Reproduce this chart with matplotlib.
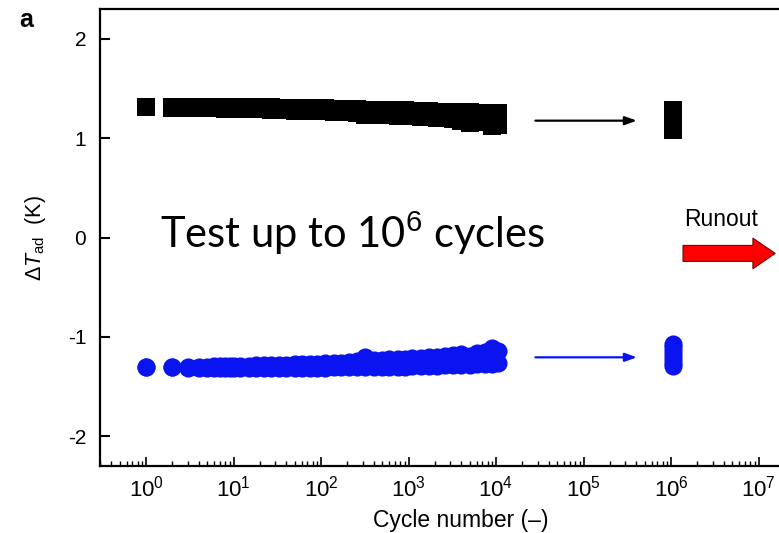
import numpy as np
from matplotlib import pyplot as plt

# cycle counts along the dense band (shared by both series)
band_cycles = [1, 2, 3, 4, 5, 6, 7, 8, 9, 10, 12, 15, 18, 22, 27, 33, 40, 50, 60, 75,
               90, 110, 140, 170, 210, 260, 320, 400, 500, 600, 750, 900, 1100, 1400,
               1700, 2100, 2600, 3200, 4000, 5000, 6000, 7500, 9000, 10500]

# heating (black squares): upper and lower edge of the band, K
heat_upper = [1.31, 1.31, 1.31, 1.31, 1.31, 1.31, 1.31, 1.31, 1.31, 1.31, 1.31, 1.31,
              1.31, 1.31, 1.31, 1.30, 1.30, 1.30, 1.30, 1.30, 1.30, 1.30, 1.29, 1.29,
              1.29, 1.29, 1.28, 1.28, 1.28, 1.28, 1.28, 1.28, 1.27, 1.27, 1.27, 1.26,
              1.26, 1.26, 1.26, 1.26, 1.25, 1.25, 1.25, 1.25]
heat_lower = [1.31, 1.30, 1.30, 1.30, 1.30, 1.30, 1.30, 1.29, 1.29, 1.29, 1.29, 1.29,
              1.29, 1.29, 1.28, 1.28, 1.28, 1.27, 1.27, 1.27, 1.27, 1.27, 1.26, 1.26,
              1.26, 1.25, 1.23, 1.24, 1.23, 1.23, 1.22, 1.22, 1.22, 1.21, 1.21, 1.20,
              1.20, 1.19, 1.17, 1.15, 1.16, 1.16, 1.12, 1.13]

# cooling (blue circles): upper and lower edge of the band, K
cool_upper = [-1.30, -1.30, -1.30, -1.30, -1.30, -1.29, -1.29, -1.29, -1.29, -1.29,
              -1.29, -1.29, -1.28, -1.28, -1.28, -1.28, -1.28, -1.27, -1.27, -1.27,
              -1.27, -1.26, -1.26, -1.26, -1.25, -1.24, -1.20, -1.23, -1.23, -1.22,
              -1.22, -1.22, -1.21, -1.21, -1.20, -1.20, -1.19, -1.18, -1.17, -1.19,
              -1.16, -1.15, -1.11, -1.14]
cool_lower = [-1.30, -1.30, -1.31, -1.31, -1.31, -1.31, -1.31, -1.31, -1.31, -1.31,
              -1.31, -1.31, -1.31, -1.31, -1.31, -1.31, -1.31, -1.31, -1.31, -1.31,
              -1.31, -1.31, -1.30, -1.30, -1.30, -1.30, -1.30, -1.30, -1.30, -1.30,
              -1.30, -1.30, -1.29, -1.29, -1.29, -1.29, -1.28, -1.28, -1.28, -1.28,
              -1.27, -1.27, -1.27, -1.26]

# measurements after 10^6 cycles
late_cycle = 1.05e6
heat_late = [1.28, 1.25, 1.22, 1.19, 1.16, 1.13, 1.10, 1.08]
cool_late = [-1.07, -1.10, -1.14, -1.18, -1.22, -1.26, -1.29]

y_ticks = [-2, -1, 0, 1, 2]
x_ticks = [10.0 ** k for k in range(0, 9)]
x_labels = ['$10^{%d}$' % k for k in range(0, 9)]

plt.rcParams['font.family'] = ['Liberation Sans', 'DejaVu Sans']
plt.rcParams['mathtext.fontset'] = 'custom'
plt.rcParams['mathtext.rm'] = 'Liberation Sans'
plt.rcParams['mathtext.it'] = 'Liberation Sans:italic'

fig = plt.figure(figsize=(7.79, 5.33), dpi=100)
ax = fig.add_axes([0.1284, 0.1257, 0.97, 0.8574])

ax.scatter(band_cycles, heat_upper, marker='s', s=150, c='black', linewidths=0)
ax.scatter(band_cycles, heat_lower, marker='s', s=150, c='black', linewidths=0)
ax.scatter([late_cycle] * len(heat_late), heat_late, marker='s', s=150, c='black', linewidths=0)

ax.scatter(band_cycles, cool_upper, marker='o', s=170, c='#0a14f0', linewidths=0)
ax.scatter(band_cycles, cool_lower, marker='o', s=170, c='#0a14f0', linewidths=0)
ax.scatter([late_cycle] * len(cool_late), cool_late, marker='o', s=170, c='#0a14f0', linewidths=0)

ax.set_xscale('log')
ax.set_xlim(10 ** -0.526, 10 ** 8.11)
ax.set_ylim(-2.3, 2.3)
ax.set_xticks(x_ticks)
ax.set_xticklabels(x_labels)
ax.set_yticks(y_ticks)
ax.set_yticklabels([str(v) for v in y_ticks])
ax.xaxis.set_minor_locator(plt.matplotlib.ticker.LogLocator(base=10, subs=np.arange(2, 10)))
ax.xaxis.set_minor_formatter(plt.NullFormatter())
ax.tick_params(axis='x', which='major', direction='in', length=6.5, width=1.2, labelsize=16, pad=7)
ax.tick_params(axis='x', which='minor', direction='in', length=3.5, width=1.0)
ax.tick_params(axis='y', which='major', direction='in', length=7, width=1.5, labelsize=15, pad=10)
ax.tick_params(top=False, right=False)
for sp in ax.spines.values():
    sp.set_linewidth(1.6)

ax.set_xlabel('Cycle number (–)', fontsize=16.5)
ax.xaxis.set_label_coords(0.478, -0.095)
ax.set_ylabel(r'$\mathit{\Delta T}_{\rm ad}$  (K)', fontsize=15.5)
ax.yaxis.set_label_coords(-0.069, 0.5)

# arrows from the end of the band to the 10^6 measurements
arrow_kw = dict(arrowstyle='-|>,head_length=0.7,head_width=0.25', lw=1.6, shrinkA=0, shrinkB=0)
ax.annotate('', xy=(10 ** 5.61, 1.176), xytext=(10 ** 4.45, 1.176),
            arrowprops=dict(color='black', **arrow_kw))
ax.annotate('', xy=(10 ** 5.61, -1.206), xytext=(10 ** 4.45, -1.206),
            arrowprops=dict(color='#0a14f0', **arrow_kw))

# runout marker
ax.text(10 ** 6.15, 0.18, 'Runout', fontsize=16.5, va='center', ha='left')
ax.annotate('', xy=(10 ** 7.19, -0.16), xytext=(10 ** 6.137, -0.16),
            arrowprops=dict(arrowstyle='simple,head_length=1.6,head_width=2.2,tail_width=1.15',
                            mutation_scale=10, fc='#ff0000', ec='#7a0000', lw=0.8,
                            shrinkA=0, shrinkB=0))

ax.text(10 ** 0.16, -0.11, 'Test up to 10$^{6}$ cycles', fontsize=30, family='Lato',
        va='baseline', ha='left')

fig.text(0.025, 0.985, 'a', fontsize=18, fontweight='bold', va='top', ha='left')

fig.savefig('out.png', dpi=100)
